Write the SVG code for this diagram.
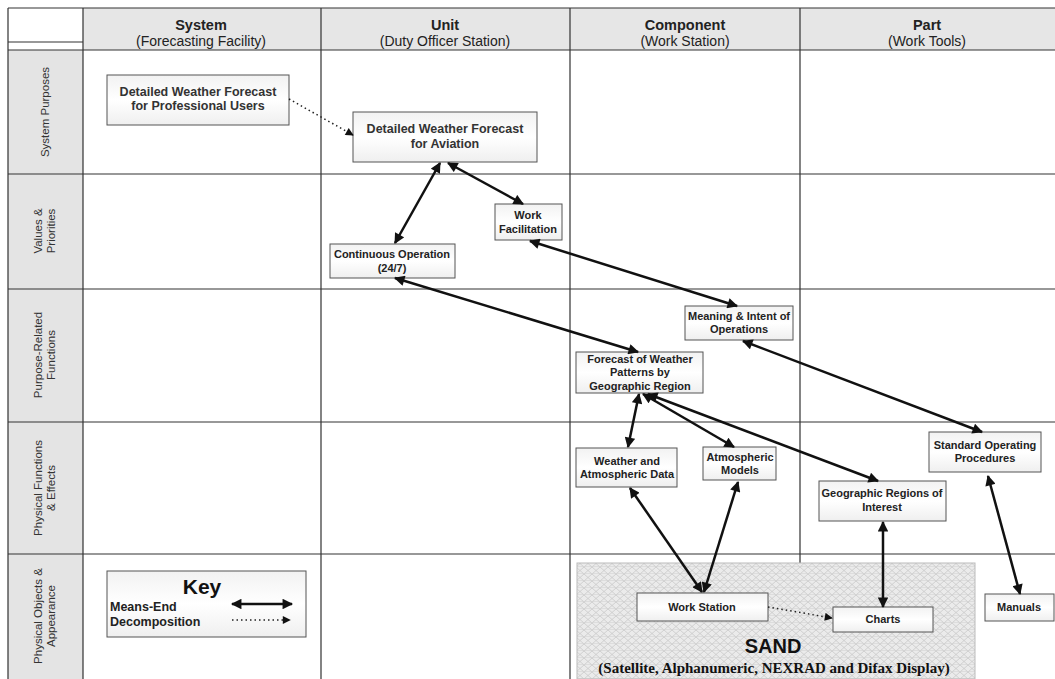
<svg xmlns="http://www.w3.org/2000/svg" width="1055" height="679" viewBox="0 0 1055 679">
<style>
.grid{stroke:#333;stroke-width:1.2;fill:none}
.hd{font-family:"Liberation Sans",Arial,sans-serif;font-size:14.5px;font-weight:bold;fill:#222;text-anchor:middle}
.hs{font-family:"Liberation Sans",Arial,sans-serif;font-size:14px;fill:#222;text-anchor:middle}
.rl{font-family:"Liberation Sans",Arial,sans-serif;font-size:11.5px;fill:#333;text-anchor:middle}
.box{fill:url(#bg);stroke:#555;stroke-width:1}
.t{font-family:"Liberation Sans",Arial,sans-serif;font-size:11px;font-weight:bold;fill:#222;text-anchor:middle}
.tb{font-family:"Liberation Sans",Arial,sans-serif;font-size:12.5px;font-weight:bold;fill:#333;text-anchor:middle}
.me{stroke:#111;stroke-width:2.5;fill:none;marker-start:url(#ah);marker-end:url(#ah)}
.dc{stroke:#222;stroke-width:1.5;stroke-dasharray:1.5,3;fill:none;marker-end:url(#dh)}
</style>
<defs>
<linearGradient id="bg" x1="0" y1="0" x2="0" y2="1">
<stop offset="0" stop-color="#f2f2f2"/>
<stop offset="0.5" stop-color="#ffffff"/>
<stop offset="1" stop-color="#efefef"/>
</linearGradient>
<pattern id="hatch" width="8" height="7" patternUnits="userSpaceOnUse">
<rect width="8" height="7" fill="#ebebeb"/>
<path d="M0,0 L8,7 M8,0 L0,7" stroke="#c9c9c9" stroke-width="0.8"/>
<path d="M0,6.5 H8" stroke="#d4d4d4" stroke-width="0.6"/>
</pattern>
<marker id="ah" viewBox="0 0 10 10" refX="9" refY="5" markerWidth="4.8" markerHeight="4.2" orient="auto-start-reverse">
<path d="M0,0 L10,5 L0,10 z" fill="#111"/>
</marker>
<marker id="dh" viewBox="0 0 10 10" refX="9" refY="5" markerUnits="userSpaceOnUse" markerWidth="9" markerHeight="8" orient="auto">
<path d="M0,0 L10,5 L0,10 z" fill="#111"/>
</marker>
</defs>

<g id="grid">
<rect x="8" y="8" width="1047" height="42" fill="#e6e6e6"/>
<rect x="8" y="8" width="75" height="42" fill="#ffffff"/>
<rect x="8" y="50" width="75" height="629" fill="#e4e4e4"/>
<path class="grid" d="M8,8 H1055 M8,8 V679 M8,42 H83 M8,50 H1055 M8,174 H1055 M8,289 H1055 M8,422 H1055 M8,554 H1055 M83,8 V679 M321,8 V679 M570,8 V679 M800,8 V679"/>
</g>

<g id="headers">
<text class="hd" x="201" y="30">System</text>
<text class="hs" x="201" y="46">(Forecasting Facility)</text>
<text class="hd" x="445" y="30">Unit</text>
<text class="hs" x="445" y="46">(Duty Officer Station)</text>
<text class="hd" x="685" y="30">Component</text>
<text class="hs" x="685" y="46">(Work Station)</text>
<text class="hd" x="927" y="30">Part</text>
<text class="hs" x="927" y="46">(Work Tools)</text>
</g>

<g id="row-labels">
<text class="rl" transform="translate(49,112) rotate(-90)">System Purposes</text>
<text class="rl" transform="translate(42,231) rotate(-90)">Values &amp;</text>
<text class="rl" transform="translate(55,231) rotate(-90)">Priorities</text>
<text class="rl" transform="translate(42,355) rotate(-90)">Purpose-Related</text>
<text class="rl" transform="translate(55,355) rotate(-90)">Functions</text>
<text class="rl" transform="translate(42,488) rotate(-90)">Physical Functions</text>
<text class="rl" transform="translate(55,488) rotate(-90)">&amp; Effects</text>
<text class="rl" transform="translate(42,616) rotate(-90)">Physical Objects &amp;</text>
<text class="rl" transform="translate(55,616) rotate(-90)">Appearance</text>
</g>

<g id="sand">
<rect x="577" y="563" width="398" height="116" fill="url(#hatch)" stroke="#bbb" stroke-width="1"/>
<text x="773" y="653" font-family="Liberation Sans,Arial,sans-serif" font-size="20" font-weight="bold" fill="#111" text-anchor="middle">SAND</text>
<text x="774" y="673" font-family="Liberation Serif,Times New Roman,serif" font-size="15" font-weight="bold" fill="#111" text-anchor="middle">(Satellite, Alphanumeric, NEXRAD and Difax Display)</text>
</g>

<g id="n-prof">
<rect class="box" x="107" y="75" width="182" height="50"/>
<text class="tb" x="198" y="96">Detailed Weather Forecast</text>
<text class="tb" x="198" y="110">for Professional Users</text>
</g>
<g id="n-aviation">
<rect class="box" x="353" y="112" width="184" height="50"/>
<text class="tb" x="445" y="133">Detailed Weather Forecast</text>
<text class="tb" x="445" y="148">for Aviation</text>
</g>
<g id="n-workfac">
<rect class="box" x="495" y="204" width="67" height="36"/>
<text class="t" x="528" y="219">Work</text>
<text class="t" x="528" y="233">Facilitation</text>
</g>
<g id="n-contop">
<rect class="box" x="330" y="244" width="125" height="34"/>
<text class="t" x="392" y="258">Continuous Operation</text>
<text class="t" x="392" y="272">(24/7)</text>
</g>
<g id="n-meaning">
<rect class="box" x="685" y="306" width="108" height="34"/>
<text class="t" x="739" y="320">Meaning &amp; Intent of</text>
<text class="t" x="739" y="333">Operations</text>
</g>
<g id="n-forecast">
<rect class="box" x="576" y="352" width="127" height="41"/>
<text class="t" x="640" y="363">Forecast of Weather</text>
<text class="t" x="640" y="376">Patterns by</text>
<text class="t" x="640" y="390">Geographic Region</text>
</g>
<g id="n-wdata">
<rect class="box" x="576" y="448" width="101" height="39"/>
<text class="t" x="627" y="465">Weather and</text>
<text class="t" x="627" y="478">Atmospheric Data</text>
</g>
<g id="n-models">
<rect class="box" x="703" y="447" width="73" height="33"/>
<text class="t" x="740" y="461">Atmospheric</text>
<text class="t" x="740" y="474">Models</text>
</g>
<g id="n-georeg">
<rect class="box" x="819" y="481" width="127" height="40"/>
<text class="t" x="882" y="497">Geographic Regions of</text>
<text class="t" x="882" y="511">Interest</text>
</g>
<g id="n-sop">
<rect class="box" x="929" y="432" width="112" height="40"/>
<text class="t" x="985" y="449">Standard Operating</text>
<text class="t" x="985" y="462">Procedures</text>
</g>
<g id="n-workstation">
<rect class="box" x="637" y="593" width="131" height="28"/>
<text class="t" x="702" y="611">Work Station</text>
</g>
<g id="n-charts">
<rect class="box" x="833" y="607" width="100" height="25"/>
<text class="t" x="883" y="623">Charts</text>
</g>
<g id="n-manuals">
<rect class="box" x="985" y="594" width="69" height="27"/>
<text class="t" x="1019" y="611">Manuals</text>
</g>

<g id="key">
<rect class="box" x="107" y="571" width="199" height="66"/>
<text x="202" y="594" font-family="Liberation Sans,Arial,sans-serif" font-size="21" font-weight="bold" fill="#111" text-anchor="middle">Key</text>
<text x="110" y="611" font-family="Liberation Sans,Arial,sans-serif" font-size="12.5" font-weight="bold" fill="#222">Means-End</text>
<text x="110" y="626" font-family="Liberation Sans,Arial,sans-serif" font-size="12.5" font-weight="bold" fill="#222">Decomposition</text>
<path class="me" d="M232,604 H292"/>
<path class="dc" d="M232,620 H290"/>
</g>

<g id="connectors">
<path class="dc" d="M289,99 L353,135"/>
<path class="me" d="M440,163 L395,243"/>
<path class="me" d="M448,163 L523,204"/>
<path class="me" d="M530,241 L737,306"/>
<path class="me" d="M395,278 L638,352"/>
<path class="me" d="M743,341 L982,432"/>
<path class="me" d="M639,394 L628,447"/>
<path class="me" d="M643,394 L734,447"/>
<path class="me" d="M648,394 L878,481"/>
<path class="me" d="M630,488 L702,592"/>
<path class="me" d="M738,482 L704,592"/>
<path class="me" d="M883,522 L883,607"/>
<path class="me" d="M988,476 L1020,594"/>
<path class="dc" d="M768,607 L832,618"/>
</g>
</svg>
